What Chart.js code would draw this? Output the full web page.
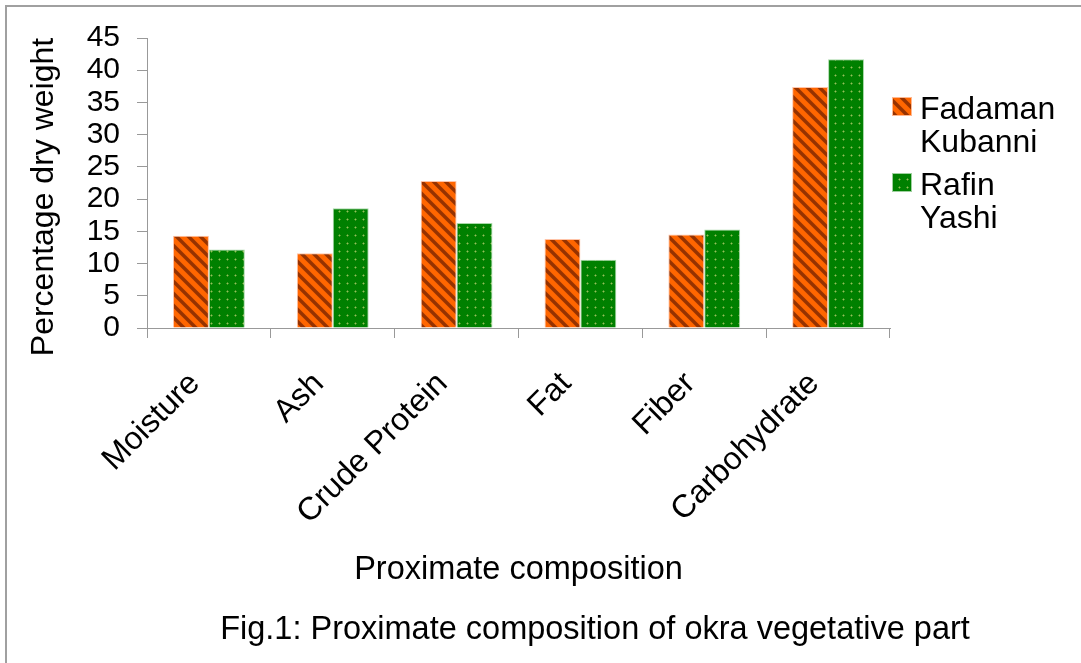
<!DOCTYPE html>
<html>
<head>
<meta charset="utf-8">
<script src="https://cdn.jsdelivr.net/npm/chart.js@4"></script>
<style>
  html, body { margin: 0; padding: 0; background: #fff; overflow: hidden; }
  #frame {
    position: absolute; left: 5px; top: 5px; width: 1200px; height: 800px;
    border-top: 2px solid #a0a0a0; border-left: 2px solid #a0a0a0;
  }
  #wrap { position: absolute; left: 0; top: 0; width: 1081px; height: 663px; }
</style>
</head>
<body>
<div id="frame"></div>
<div id="wrap"><canvas id="chart" width="1081" height="663"></canvas></div>
<script>
const categories = ['Moisture', 'Ash', 'Crude Protein', 'Fat', 'Fiber', 'Carbohydrate'];
const seriesNames = ['Fadaman Kubanni', 'Rafin Yashi'];
const fadamanKubanni = [14.3, 11.6, 22.8, 13.8, 14.5, 37.4];
const rafinYashi = [12.2, 18.6, 16.3, 10.6, 15.3, 41.7];
const yTicks = [0, 5, 10, 15, 20, 25, 30, 35, 40, 45];
const yTitle = 'Percentage dry weight';
const caption = 'Fig.1: Proximate composition of okra vegetative part';

const FONT = '"Liberation Sans", Arial, sans-serif';

// diagonal orange/brown stripes
function makeStripes() {
    const s = 12;
    const tile = document.createElement('canvas');
    tile.width = s; tile.height = s;
    const tctx = tile.getContext('2d');
    const img = tctx.createImageData(s, s);
    const a = [255, 102, 0], b = [150, 50, 0];
    for (let y = 0; y < s; y++) {
        for (let x = 0; x < s; x++) {
            const t = (((x - y) % s) + s) % s / s;
            let m = 0.5 + 0.5 * Math.cos(2 * Math.PI * t);
            m = Math.min(1, Math.max(0, (m - 0.45) / 0.35));
            const i = (y * s + x) * 4;
            img.data[i] = a[0] + (b[0] - a[0]) * m;
            img.data[i + 1] = a[1] + (b[1] - a[1]) * m;
            img.data[i + 2] = a[2] + (b[2] - a[2]) * m;
            img.data[i + 3] = 255;
        }
    }
    tctx.putImageData(img, 0, 0);
    return tctx.createPattern(tile, 'repeat');
}

// green with small light dots
function makeDots() {
    const s = 8;
    const tile = document.createElement('canvas');
    tile.width = s; tile.height = s;
    const tctx = tile.getContext('2d');
    tctx.fillStyle = '#008000';
    tctx.fillRect(0, 0, s, s);
    tctx.fillStyle = '#4a9a2a';
    tctx.fillRect(3, 2, 1, 3);
    tctx.fillRect(2, 3, 3, 1);
    tctx.fillStyle = '#8fc85a';
    tctx.fillRect(3, 3, 1, 1);
    return tctx.createPattern(tile, 'repeat');
}

const stripes = makeStripes();
const dots = makeDots();
const fills = [stripes, dots];

// legend with wrapped names on the right, the y title and the caption
const extras = {
    id: 'extras',
    afterDraw(chart) {
        const ctx = chart.ctx;
        const area = chart.chartArea;
        const x0 = area.right + 2;
        const tops = [97, 173];
        ctx.save();
        ctx.font = '32px ' + FONT;
        ctx.textBaseline = 'alphabetic';
        seriesNames.forEach((name, i) => {
            const top = tops[i];
            ctx.fillStyle = fills[i];
            ctx.fillRect(x0, top, 20, 19);
            ctx.strokeStyle = i === 0 ? '#ffb890' : '#9fd09f';
            ctx.lineWidth = 1;
            ctx.strokeRect(x0 + 0.5, top + 0.5, 19, 18);
            ctx.fillStyle = '#000';
            name.split(' ').forEach((w, j) => {
                ctx.fillText(w, x0 + 28, top + 22 + j * 33);
            });
        });

        ctx.font = '32.5px ' + FONT;
        ctx.textAlign = 'center';
        ctx.textBaseline = 'middle';
        ctx.fillText(caption, 595, 630);

        ctx.font = '32px ' + FONT;
        ctx.translate(44, (area.top + area.bottom) / 2 + 14);
        ctx.rotate(-Math.PI / 2);
        ctx.fillText(yTitle, 0, 0);
        ctx.restore();
    }
};

new Chart(document.getElementById('chart'), {
    type: 'bar',
    data: {
        labels: categories,
        datasets: [{
            label: seriesNames[0],
            data: fadamanKubanni,
            backgroundColor: stripes,
            borderColor: '#ffc4a8',
            borderWidth: 1
        }, {
            label: seriesNames[1],
            data: rafinYashi,
            backgroundColor: dots,
            borderColor: '#a8d8a8',
            borderWidth: 1
        }]
    },
    options: {
        responsive: false,
        animation: false,
        devicePixelRatio: 1,
        layout: { padding: { left: 8, top: 38, right: 191, bottom: 52.4 } },
        datasets: { bar: { categoryPercentage: 0.58, barPercentage: 1 } },
        plugins: {
            legend: { display: false },
            tooltip: { enabled: false }
        },
        scales: {
            x: {
                grid: { drawOnChartArea: false, offset: true, tickLength: 10, color: '#999' },
                border: { color: '#999', width: 1 },
                ticks: {
                    color: '#000', font: { family: FONT, size: 32 },
                    minRotation: 45, maxRotation: 45, padding: 27, labelOffset: -14, autoSkip: false
                },
                title: {
                    display: true, text: 'Proximate composition', color: '#000',
                    font: { family: FONT, size: 32.5 }, padding: { top: 0, bottom: 21 }
                },
                afterFit(s) { s.height = 282.6; }
            },
            y: {
                min: 0, max: 45,
                afterBuildTicks(s) { s.ticks = yTicks.map(v => ({ value: v })); },
                grid: { drawOnChartArea: false, tickLength: 10, color: '#999' },
                border: { color: '#999', width: 1 },
                ticks: { color: '#000', font: { family: FONT, size: 30 }, padding: 17, autoSkip: false },
                afterFit(s) { s.width = 139; }
            }
        }
    },
    plugins: [extras]
});
</script>
</body>
</html>
